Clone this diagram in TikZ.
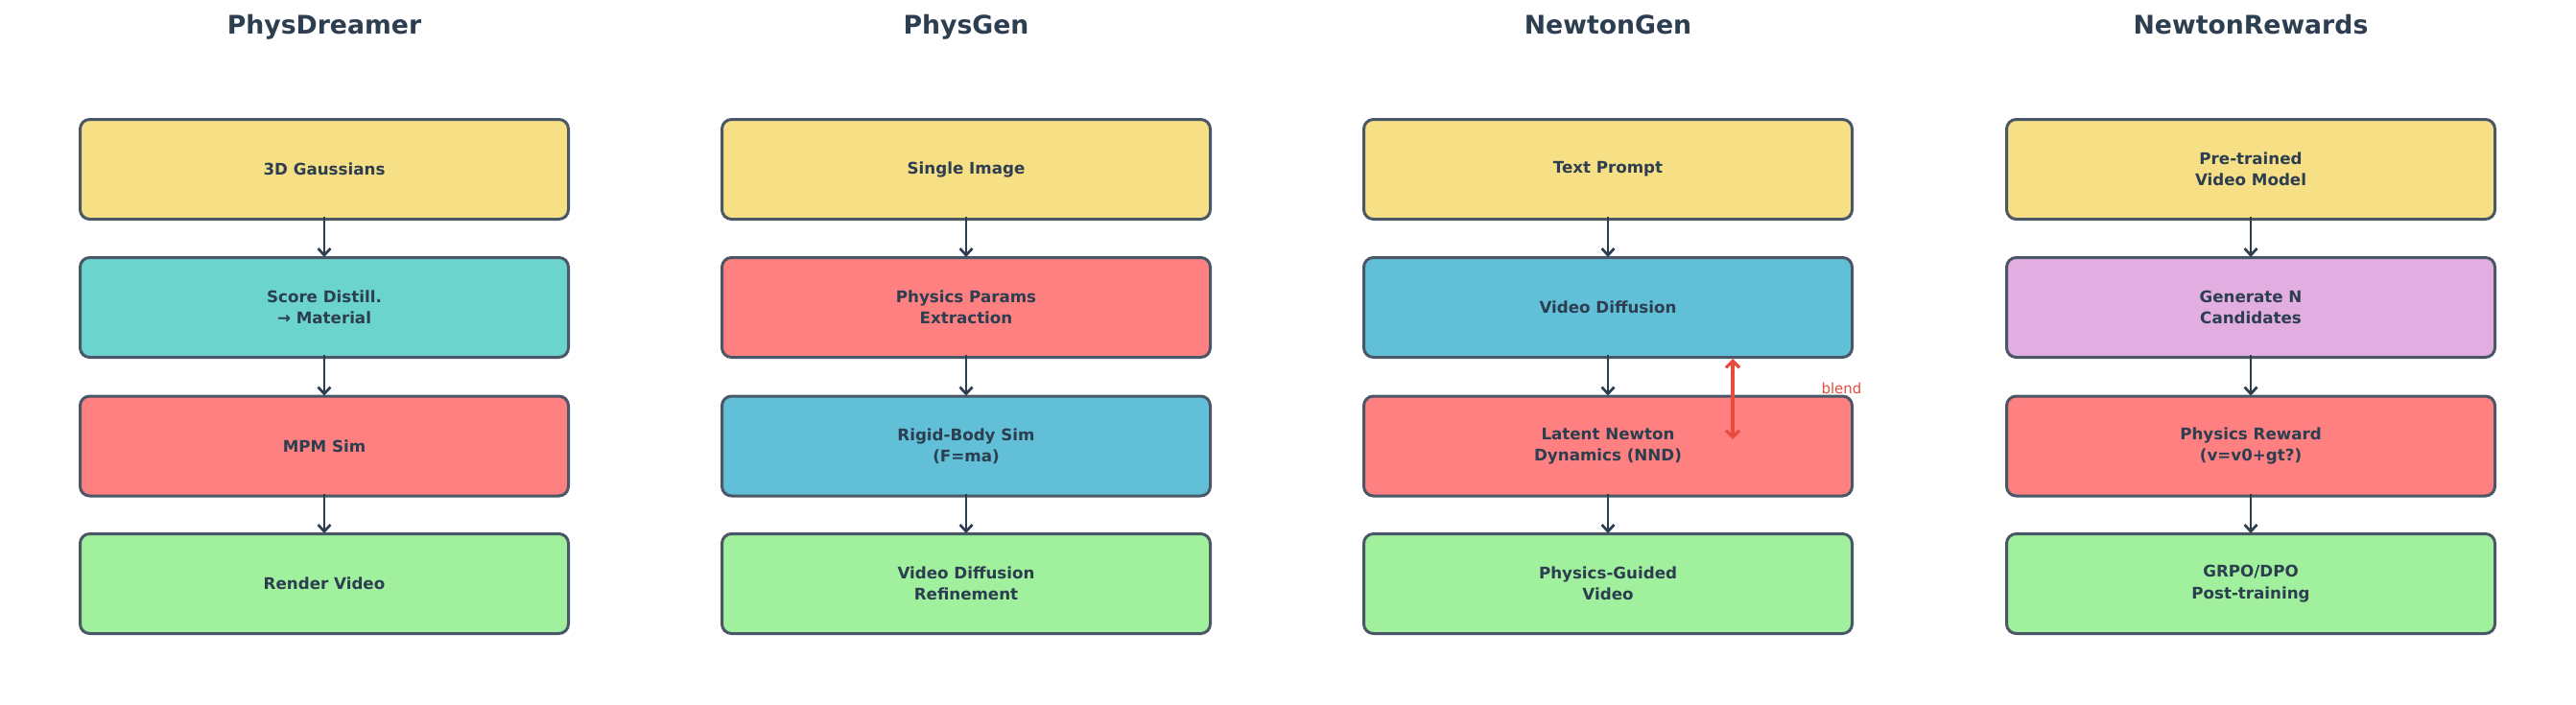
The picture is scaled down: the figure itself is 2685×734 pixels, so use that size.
\documentclass[tikz,border=0pt]{standalone}
\usepackage{fontspec}
\setmainfont{DejaVu Sans}
\usepackage{xcolor}
\usetikzlibrary{arrows.meta}
\definecolor{ink}{HTML}{2C3E50}
\definecolor{rim}{HTML}{4A5766}
\definecolor{cyellow}{HTML}{F7DF85}
\definecolor{cteal}{HTML}{6BD5CD}
\definecolor{cred}{HTML}{FF8080}
\definecolor{cblue}{HTML}{61C0D7}
\definecolor{cgreen}{HTML}{A1F09D}
\definecolor{cplum}{HTML}{E2ADE0}
\definecolor{cblend}{HTML}{E74C3C}

\begin{document}
\begin{tikzpicture}[x=1pt,y=-1pt,
  stage/.style={draw=rim, line width=3pt, rounded corners=10pt, minimum width=509pt, minimum height=104pt, inner sep=0pt, align=center, text=ink, font=\fontsize{16.7}{22.5}\selectfont\bfseries},
  heading/.style={anchor=base, text=ink, font=\fontsize{26.7}{32}\selectfont\bfseries},
  flow/.style={draw=ink, line width=2.7pt, shorten <=-4pt, shorten >=-1pt, -{Straight Barb[length=7pt,width=13pt]}},
  blendarrow/.style={draw=cblend, line width=3.3pt, {Straight Barb[length=7pt,width=14pt]}-{Straight Barb[length=7pt,width=14pt]}}]

\useasboundingbox (0,0) rectangle (2685,734);

% PhysDreamer
\node [heading] (tpd) at (338,35) {PhysDreamer};
\node [stage, fill=cyellow] (pd1) at (338,176.5) {3D Gaussians};
\node [stage, fill=cteal] (pd2) at (338,320.5) {Score Distill.\\→ Material};
\node [stage, fill=cred] (pd3) at (338,465) {MPM Sim};
\node [stage, fill=cgreen] (pd4) at (338,608.5) {Render Video};
\draw [flow] (pd1.south) -- (pd2.north);
\draw [flow] (pd2.south) -- (pd3.north);
\draw [flow] (pd3.south) -- (pd4.north);

% PhysGen
\node [heading] (tpg) at (1007,35) {PhysGen};
\node [stage, fill=cyellow] (pg1) at (1007,176.5) {Single Image};
\node [stage, fill=cred] (pg2) at (1007,320.5) {Physics Params\\Extraction};
\node [stage, fill=cblue] (pg3) at (1007,465) {Rigid-Body Sim\\(F=ma)};
\node [stage, fill=cgreen] (pg4) at (1007,608.5) {Video Diffusion\\Refinement};
\draw [flow] (pg1.south) -- (pg2.north);
\draw [flow] (pg2.south) -- (pg3.north);
\draw [flow] (pg3.south) -- (pg4.north);

% NewtonGen
\node [heading] (tng) at (1676,35) {NewtonGen};
\node [stage, fill=cyellow] (ng1) at (1676,176.5) {Text Prompt};
\node [stage, fill=cblue] (ng2) at (1676,320.5) {Video Diffusion};
\node [stage, fill=cred] (ng3) at (1676,465) {Latent Newton\\Dynamics (NND)};
\node [stage, fill=cgreen] (ng4) at (1676,608.5) {Physics-Guided\\Video};
\draw [flow] (ng1.south) -- (ng2.north);
\draw [flow] (ng2.south) -- (ng3.north);
\draw [flow] (ng3.south) -- (ng4.north);
\coordinate (blendend) at (1806,458);
\draw [blendarrow] (ng2.south -| blendend) -- (blendend);
\node [anchor=base, text=cblend, font=\fontsize{15}{18}\selectfont] (lblend) at (1919.5,410) {blend};

% NewtonRewards
\node [heading] (tnr) at (2346,35) {NewtonRewards};
\node [stage, fill=cyellow] (nr1) at (2346,176.5) {Pre-trained\\Video Model};
\node [stage, fill=cplum] (nr2) at (2346,320.5) {Generate N\\Candidates};
\node [stage, fill=cred] (nr3) at (2346,465) {Physics Reward\\(v=v0+gt?)};
\node [stage, fill=cgreen] (nr4) at (2346,608.5) {GRPO/DPO\\Post-training};
\draw [flow] (nr1.south) -- (nr2.north);
\draw [flow] (nr2.south) -- (nr3.north);
\draw [flow] (nr3.south) -- (nr4.north);
\end{tikzpicture}
\end{document}
